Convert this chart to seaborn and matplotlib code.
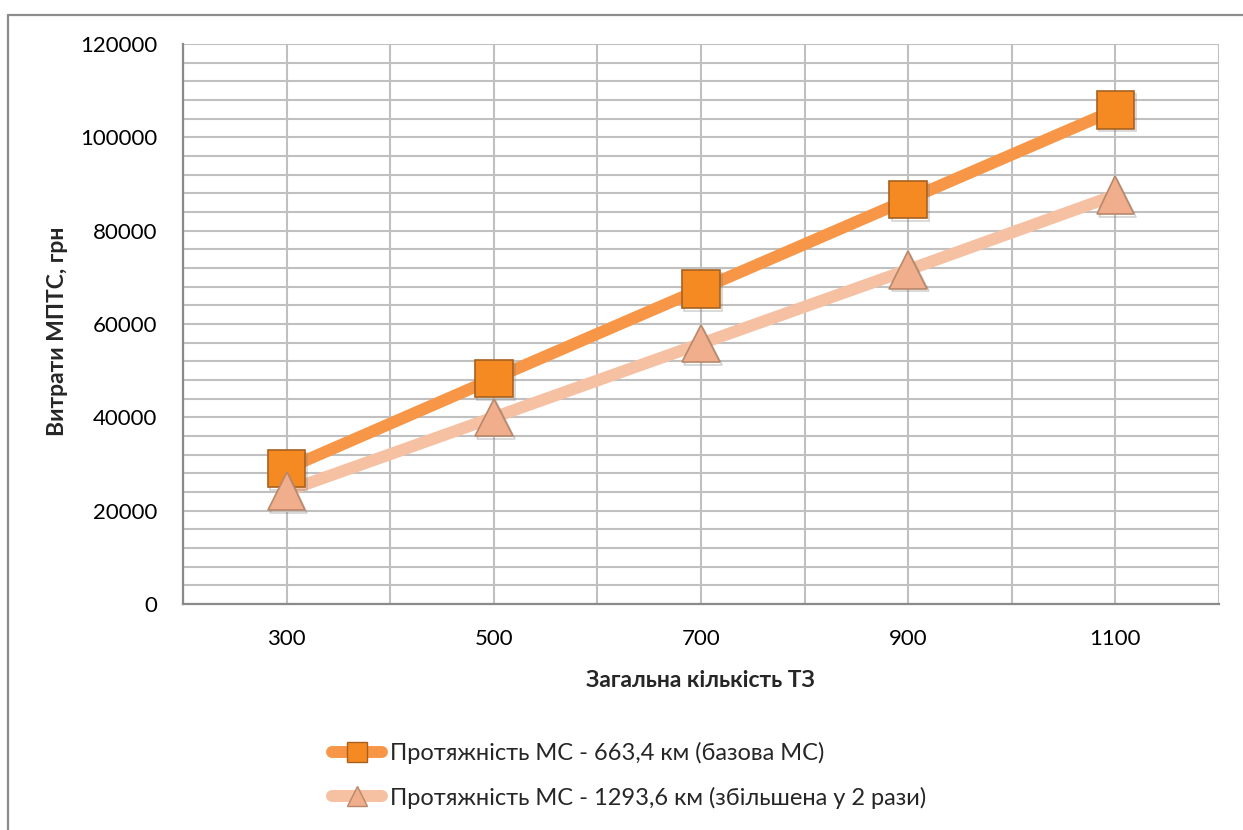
import matplotlib
matplotlib.use("Agg")
import matplotlib.pyplot as plt
import matplotlib.patheffects as pe
from matplotlib.lines import Line2D
from matplotlib.ticker import MultipleLocator
import pandas as pd
import seaborn as sns

# Vehicle counts and costs for the two network lengths
vehicles = [300, 500, 700, 900, 1100]
cost_base = [29000, 48300, 67500, 86700, 105900]
cost_double = [24200, 40000, 55800, 71600, 87600]
series_names = [
    "Протяжність МС - 663,4 км (базова МС)",
    "Протяжність МС - 1293,6 км (збільшена у 2 рази)",
]
x_label = "Загальна кількість ТЗ"
y_label = "Витрати МПТС, грн"

df = pd.DataFrame({
    "x": vehicles * 2,
    "y": cost_base + cost_double,
    "series": [series_names[0]] * 5 + [series_names[1]] * 5,
})

sns.set_theme(style="white")
plt.rcParams["font.family"] = ["Lato", "DejaVu Sans"]

W, H = 1243, 830
fig = plt.figure(figsize=(W / 100, H / 100), dpi=100)
ax = fig.add_axes([183 / W, 1 - 604 / H, (1219 - 183) / W, (604 - 44) / H])

styles = [
    dict(color="#F79646", marker="s", mfc="#F58A22", mec="#A8601F", lw=8.6),
    dict(color="#F6C0A2", marker="^", mfc="#F0AE8D", mec="#B98769", lw=8.6),
]
marker_shadow = [pe.SimpleLineShadow(offset=(1.5, -2.0), shadow_color="#808080", alpha=0.35),
                 pe.Normal()]

# Thick connecting lines first, then the markers on top of both lines
for name, st in zip(series_names, styles):
    sub = df[df["series"] == name]
    sns.lineplot(data=sub, x="x", y="y", ax=ax, color=st["color"], linewidth=st["lw"],
                 legend=False, solid_capstyle="butt")
for name, st in zip(series_names, styles):
    sub = df[df["series"] == name]
    sns.lineplot(data=sub, x="x", y="y", ax=ax, linestyle="", marker=st["marker"],
                 markersize=27, markerfacecolor=st["mfc"], markeredgecolor=st["mec"],
                 markeredgewidth=1.2, legend=False)
    ax.lines[-1].set_path_effects(marker_shadow)

ax.set_xlim(200, 1200)
ax.set_ylim(0, 120000)
ax.set_xticks(vehicles)
ax.xaxis.set_minor_locator(MultipleLocator(100))
ax.yaxis.set_major_locator(MultipleLocator(20000))
ax.yaxis.set_minor_locator(MultipleLocator(4000))
ax.grid(which="both", color="#C0C0C0", linewidth=1.5)
ax.set_axisbelow(True)
ax.tick_params(which="both", length=0, labelsize=16, colors="#000000")
ax.tick_params(axis="y", pad=18.5)
ax.tick_params(axis="x", pad=18)

for side in ["top", "right"]:
    ax.spines[side].set_visible(False)
for side in ["left", "bottom"]:
    ax.spines[side].set_color("#8A8A8A")
    ax.spines[side].set_linewidth(1.6)

ax.set_xlabel(x_label, fontsize=16.5, fontweight="bold")
ax.set_ylabel(y_label, fontsize=16.5, fontweight="bold")
ax.xaxis.label.set_va("center")
ax.yaxis.label.set_va("center")
ax.xaxis.set_label_coords((700 - 183) / 1036, (604 - 680) / 560)
ax.yaxis.set_label_coords((57 - 183) / 1036, (604 - 331) / 560)

handles = [
    Line2D([], [], color=st["color"], lw=st["lw"], marker=st["marker"], markersize=14,
           markerfacecolor=st["mfc"], markeredgecolor=st["mec"], markeredgewidth=1.0,
           solid_capstyle="round")
    for st in styles
]
fig.legend(handles, series_names, loc="center left", bbox_to_anchor=(332 / W, 0.066),
           frameon=False, fontsize=17, handlelength=2.1, handletextpad=0.35,
           labelspacing=0.95, borderaxespad=0, borderpad=0)

# Outer chart frame
fig.add_artist(Line2D([8 / W, 1], [1 - 15 / H, 1 - 15 / H], transform=fig.transFigure,
                      color="#8C8C8C", lw=1.6))
fig.add_artist(Line2D([8 / W, 8 / W], [0, 1 - 15 / H], transform=fig.transFigure,
                      color="#8C8C8C", lw=1.6))

fig.savefig("out.png", dpi=100, facecolor="white")
